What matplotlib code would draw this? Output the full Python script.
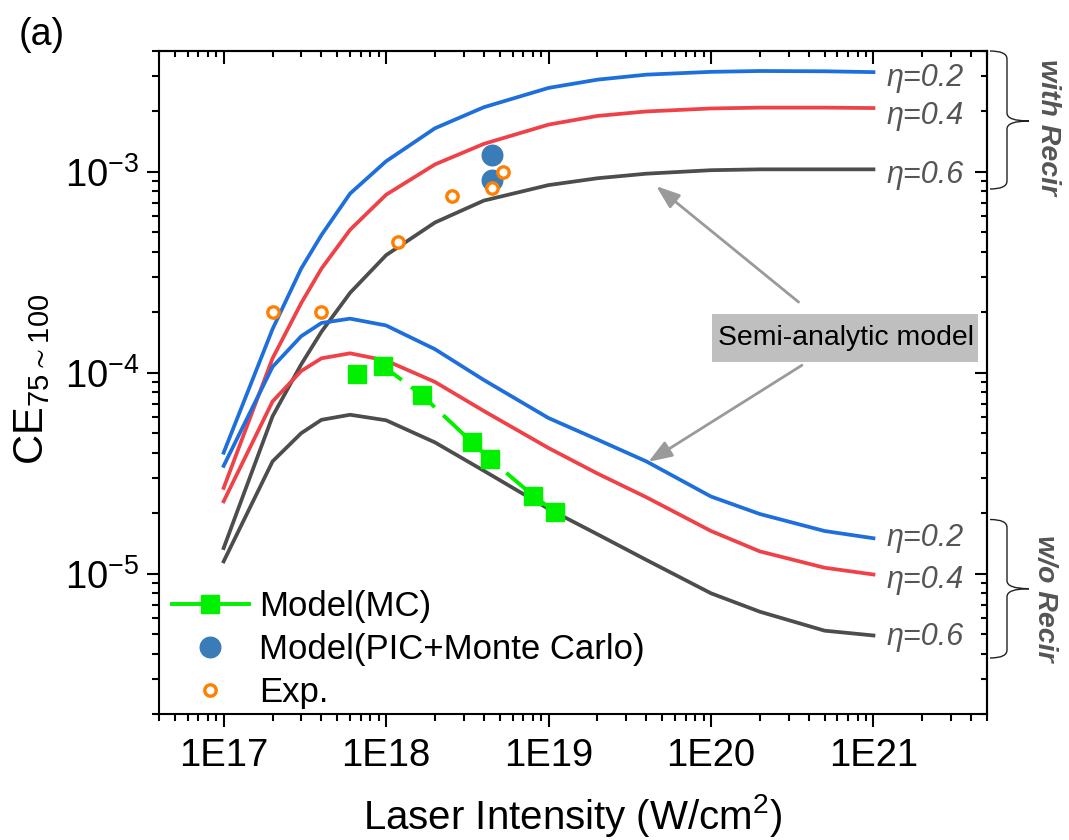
import numpy as np
import matplotlib
matplotlib.use('Agg')
import matplotlib.pyplot as plt
from matplotlib.ticker import FixedLocator, FuncFormatter, LogLocator, NullFormatter
from matplotlib.path import Path
from matplotlib.patches import PathPatch, Rectangle
from matplotlib.lines import Line2D

plt.rcParams['font.family'] = ['Liberation Sans', 'DejaVu Sans']
plt.rcParams['mathtext.default'] = 'regular'
plt.rcParams['axes.unicode_minus'] = False

# ---------------- data ----------------
intensity = [1e17, 2e17, 3e17, 4e17, 6e17, 1e18, 2e18, 4e18, 1e19, 2e19,
             4e19, 1e20, 2e20, 5e20, 1e21]
recir_02 = [4.0e-5, 1.65e-4, 3.3e-4, 4.85e-4, 7.8e-4, 1.13e-3, 1.65e-3, 2.1e-3,
            2.62e-3, 2.88e-3, 3.05e-3, 3.15e-3, 3.18e-3, 3.17e-3, 3.14e-3]
recir_04 = [2.67e-5, 1.18e-4, 2.22e-4, 3.3e-4, 5.15e-4, 7.7e-4, 1.09e-3, 1.38e-3,
            1.72e-3, 1.9e-3, 2.0e-3, 2.07e-3, 2.09e-3, 2.09e-3, 2.08e-3]
recir_06 = [1.34e-5, 6.07e-5, 1.1e-4, 1.6e-4, 2.5e-4, 3.85e-4, 5.6e-4, 7.2e-4,
            8.6e-4, 9.3e-4, 9.8e-4, 1.02e-3, 1.03e-3, 1.03e-3, 1.03e-3]
worecir_02 = [3.44e-5, 1.07e-4, 1.52e-4, 1.77e-4, 1.86e-4, 1.72e-4, 1.31e-4, 9.2e-5,
              5.95e-5, 4.65e-5, 3.62e-5, 2.42e-5, 1.98e-5, 1.63e-5, 1.5e-5]
worecir_04 = [2.29e-5, 7.2e-5, 1.02e-4, 1.18e-4, 1.25e-4, 1.15e-4, 9.0e-5, 6.45e-5,
              4.22e-5, 3.15e-5, 2.4e-5, 1.63e-5, 1.29e-5, 1.07e-5, 9.9e-6]
worecir_06 = [1.15e-5, 3.62e-5, 5.0e-5, 5.83e-5, 6.18e-5, 5.8e-5, 4.5e-5, 3.25e-5,
              2.1e-5, 1.57e-5, 1.17e-5, 7.98e-6, 6.46e-6, 5.2e-6, 4.92e-6]

mc_x = [6.58e17, 9.6e17, 1.66e18, 3.37e18, 4.36e18, 8.07e18, 1.1e19]
mc_y = [9.9e-5, 1.08e-4, 7.74e-5, 4.52e-5, 3.72e-5, 2.44e-5, 2.03e-5]
pic_x = [4.47e18, 4.47e18]
pic_y = [1.21e-3, 9.1e-4]
exp_x = [2.0e17, 4.0e17, 1.19e18, 2.56e18, 4.47e18, 5.22e18]
exp_y = [2.0e-4, 2.0e-4, 4.5e-4, 7.6e-4, 8.3e-4, 1.0e-3]

eta_labels = ['\u03b7=0.2', '\u03b7=0.4', '\u03b7=0.6']
x_major = [1e17, 1e18, 1e19, 1e20, 1e21]
x_major_labels = ['1E17', '1E18', '1E19', '1E20', '1E21']
y_major = [1e-5, 1e-4, 1e-3]

# ---------------- figure ----------------
W, H = 1069, 840
fig = plt.figure(figsize=(W / 100, H / 100), dpi=100)
L, R, T, B = 159, 987, 51, 714
ax = fig.add_axes([L / W, 1 - B / H, (R - L) / W, (B - T) / H])
ax.set_xscale('log')
ax.set_yscale('log')
ax.set_xlim(4e16, 5e21)
ax.set_ylim(2e-6, 4e-3)


def px(x, y):
    return (x / W, 1 - y / H)


blue, red, grey = '#1e6fdc', '#ef4248', '#4d4d4d'
colors = [blue, red, grey]
for vals, c in zip([recir_02, recir_04, recir_06], colors):
    ax.plot(intensity, vals, color=c, lw=2.7, zorder=2, solid_joinstyle='round')
for vals, c in zip([worecir_02, worecir_04, worecir_06], colors):
    ax.plot(intensity, vals, color=c, lw=2.7, zorder=2, solid_joinstyle='round')

green = '#00f000'
ax.plot(mc_x, mc_y, color=green, lw=2.8, ls=(5.9, (8, 3)), marker='s', ms=13.4,
        mfc=green, mec=green, zorder=4)
ax.plot(pic_x, pic_y, ls='none', marker='o', ms=14.8, mfc='#3a7cb8', mec='#3a7cb8', zorder=5)
ax.plot(exp_x, exp_y, ls='none', marker='o', ms=8.2, mfc='white', mec='#ff7f00', mew=2.4, zorder=6)

# eta labels
lab_x = 1.21e21
for lab, yv in zip(eta_labels, [2.95e-3, 1.89e-3, 9.6e-4]):
    ax.text(lab_x, yv, lab, fontsize=22, style='italic', color='#555555', ha='left', va='center')
for lab, yv in zip(eta_labels, [1.51e-5, 9.33e-6, 4.83e-6]):
    ax.text(lab_x, yv, lab, fontsize=22, style='italic', color='#555555', ha='left', va='center')

# semi-analytic box and arrows
ax.add_patch(Rectangle(px(712, 362), 266 / W, 48 / H, transform=fig.transFigure,
                       fc='#bfbfbf', ec='none', clip_on=False, zorder=3))
ax.text(6.75e20, 1.49e-4, 'Semi-analytic model', fontsize=20.4, ha='center', va='center', zorder=4)
aprops = dict(arrowstyle='-|>,head_length=0.55,head_width=0.2', color='#9a9a9a', lw=2,
              mutation_scale=26, shrinkA=0, shrinkB=0)
ax.annotate('', xy=(4.6e19, 8.5e-4), xytext=(3.46e20, 2.25e-4), arrowprops=aprops)
ax.annotate('', xy=(4.11e19, 3.6e-5), xytext=(3.63e20, 1.09e-4), arrowprops=aprops)

# ticks
ax.xaxis.set_major_locator(FixedLocator(x_major))
ax.xaxis.set_major_formatter(FuncFormatter(lambda v, p: x_major_labels[x_major.index(v)] if v in x_major else ''))
ax.xaxis.set_minor_locator(LogLocator(base=10, subs=np.arange(2, 10), numticks=30))
ax.xaxis.set_minor_formatter(NullFormatter())
ax.yaxis.set_major_locator(FixedLocator(y_major))
ax.yaxis.set_major_formatter(FuncFormatter(lambda v, p: r'$10^{%d}$' % int(round(np.log10(v)))))
ax.yaxis.set_minor_locator(LogLocator(base=10, subs=np.arange(2, 10), numticks=30))
ax.yaxis.set_minor_formatter(NullFormatter())
ax.tick_params(which='major', direction='out', length=9, width=1.5, labelsize=27.5, top=False, right=False)
ax.tick_params(axis='x', which='major', pad=8)
ax.tick_params(axis='y', which='major', pad=5)
ax.tick_params(which='minor', direction='out', length=5, width=1.5, top=False, right=False)
for s in ax.spines.values():
    s.set_linewidth(1.5)

top = ax.secondary_xaxis('top')
top.xaxis.set_major_locator(FixedLocator(x_major))
top.xaxis.set_minor_locator(LogLocator(base=10, subs=np.arange(2, 10), numticks=30))
top.xaxis.set_major_formatter(NullFormatter())
top.xaxis.set_minor_formatter(NullFormatter())
top.tick_params(which='major', direction='in', length=9, width=1.5)
top.tick_params(which='minor', direction='in', length=4.5, width=1.5)
top.spines['top'].set_linewidth(1.5)
right = ax.secondary_yaxis('right')
right.yaxis.set_major_locator(FixedLocator(y_major))
right.yaxis.set_minor_locator(LogLocator(base=10, subs=np.arange(2, 10), numticks=30))
right.yaxis.set_major_formatter(NullFormatter())
right.yaxis.set_minor_formatter(NullFormatter())
right.tick_params(which='major', direction='in', length=9, width=1.5)
right.tick_params(which='minor', direction='in', length=4.5, width=1.5)
right.spines['right'].set_linewidth(1.5)

ax.set_xlabel(r'Laser Intensity (W/cm$^2$)', fontsize=29)
ax.set_ylabel(r'CE$_{75\sim100}$', fontsize=30)
ax.xaxis.set_label_coords(0.5, -0.117)
ax.yaxis.set_label_coords(-0.129, 0.505)

# legend
handles = [Line2D([], [], color=green, lw=2.8, marker='s', ms=13.4, mfc=green, mec=green),
           Line2D([], [], ls='none', marker='o', ms=14.8, mfc='#3a7cb8', mec='#3a7cb8'),
           Line2D([], [], ls='none', marker='o', ms=8.2, mfc='white', mec='#ff7f00', mew=2.4)]
ax.legend(handles, ['Model(MC)', 'Model(PIC+Monte Carlo)', 'Exp.'], loc='lower left',
          bbox_to_anchor=(0.016, 0.008), frameon=False, fontsize=25, borderpad=0,
          borderaxespad=0, handlelength=2.2, handletextpad=0.3, labelspacing=0.28)


# braces and group labels
def brace(xl, xv, xt, yt, ym, yb, r=8):
    verts = [px(xl, yt), px(xv, yt), px(xv, yt + r),
             px(xv, ym - r), px(xv, ym), px(xt, ym),
             px(xv, ym), px(xv, ym + r),
             px(xv, yb - r), px(xv, yb), px(xl, yb)]
    codes = [Path.MOVETO, Path.CURVE3, Path.CURVE3,
             Path.LINETO, Path.CURVE3, Path.CURVE3,
             Path.CURVE3, Path.CURVE3,
             Path.LINETO, Path.CURVE3, Path.CURVE3]
    fig.add_artist(PathPatch(Path(verts, codes), transform=fig.transFigure, fc='none',
                             ec='#222222', lw=1.0, clip_on=False))


brace(990, 1007, 1029, 51, 121, 189)
brace(990, 1007, 1029, 519.5, 588.7, 658)
fig.text(*px(1048, 127), 'with Recir', rotation=-90, fontsize=20.5, fontweight='bold',
         style='italic', color='#555555', ha='center', va='center')
fig.text(*px(1045, 598), 'w/o Recir', rotation=-90, fontsize=20.5, fontweight='bold',
         style='italic', color='#555555', ha='center', va='center')
fig.text(*px(42, 35), '(a)', fontsize=27, ha='center', va='center')

fig.savefig('out.png', dpi=100)
